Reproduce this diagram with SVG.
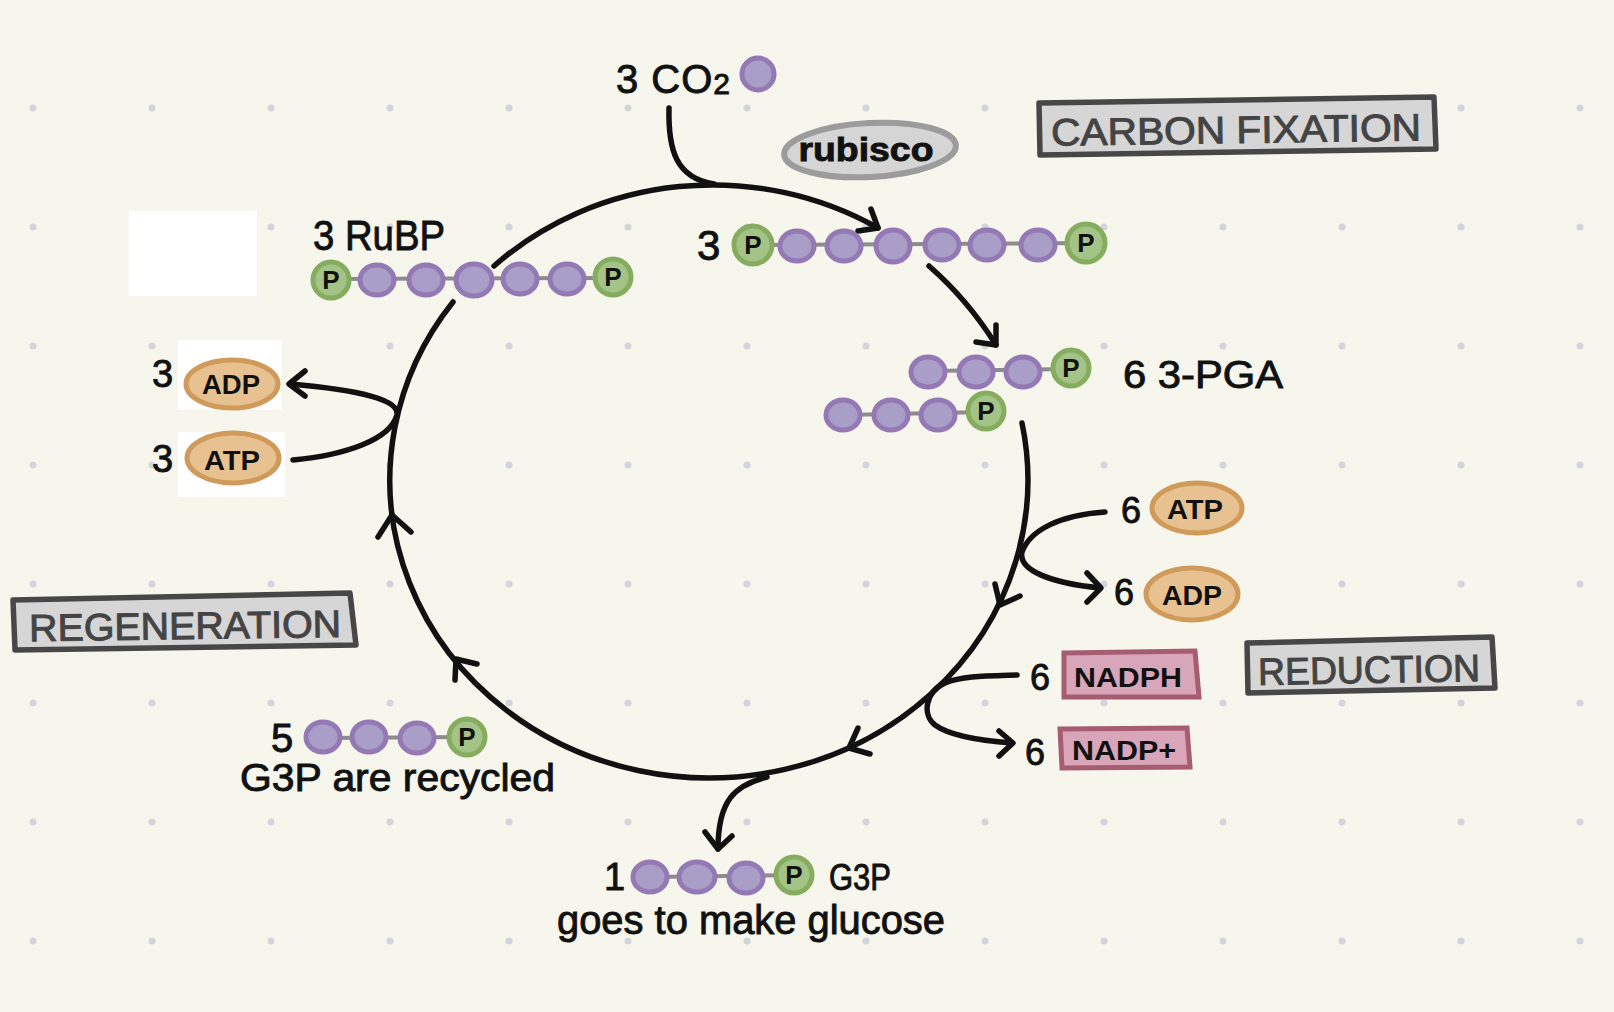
<svg xmlns="http://www.w3.org/2000/svg" width="1614" height="1012" viewBox="0 0 1614 1012">
<defs>
<pattern id="dots" x="-26" y="49" width="119" height="119" patternUnits="userSpaceOnUse">
<circle cx="59" cy="59" r="3.5" fill="#d3d5dc"/>
</pattern>
<style>
.ln{fill:none;stroke:#111;stroke-width:5.5;stroke-linecap:round;stroke-linejoin:round}
.c{fill:#a89ec8;stroke:#9479b4;stroke-width:5}
.p{fill:#a4c386;stroke:#86ad5f;stroke-width:5}
.bond{stroke:#8c8c8c;stroke-width:4}
.pt{font-family:"Liberation Sans",Arial,sans-serif;font-weight:bold;font-size:26px;fill:#111;text-anchor:middle}
.hw{font-family:"Liberation Sans",Arial,sans-serif;fill:#111;stroke:#111;stroke-width:0.9}
.tan{fill:#e8c190;stroke:#cf9a5a;stroke-width:5}
.pink{fill:#d9a5b8;stroke:#a65d71;stroke-width:5}
.box{fill:#d6d6d6;stroke:#474747;stroke-width:5.5;stroke-linejoin:round}
.boxt{font-family:"Liberation Sans",Arial,sans-serif;font-size:38px;fill:#444;stroke:#444;stroke-width:1;text-anchor:middle}
.lbl{font-family:"Liberation Sans",Arial,sans-serif;font-weight:bold;font-size:27px;fill:#111;text-anchor:middle}
</style>
</defs>
<rect width="1614" height="1012" fill="#f6f6ec"/>
<rect width="1614" height="1012" fill="url(#dots)"/>
<rect x="129" y="211" width="128" height="85" fill="#fff"/>
<rect x="178" y="340" width="104" height="70" fill="#fff"/>
<rect x="178" y="432" width="107" height="65" fill="#fff"/>

<g id="connectors">
<path class="ln" d="M494,266 A319,298 0 0 1 878,228"/>
<path class="ln" d="M669,108 C668,150 676,178 714,184"/>
<path class="ln" d="M871,209 L878,228 L858,231"/>
<path class="ln" d="M929,266 Q968,300 996,345"/>
<path class="ln" d="M976,342 L996,345 L996,325"/>
<path class="ln" d="M1022,423 A319,298 0 1 1 453,302"/>
<path class="ln" d="M1020,596 L1000,605 L995,584"/>
<path class="ln" d="M870,754 L849,748 L858,728"/>
<path class="ln" d="M455,680 L456,659 L477,664"/>
<path class="ln" d="M378,537 L392,515 L411,532"/>
<path class="ln" d="M293,460 C345,455 390,440 397,415 C400,400 360,390 290,384"/>
<path class="ln" d="M305,371 L289,384 L305,396"/>
<path class="ln" d="M1105,512 C1060,515 1030,530 1022,552 C1018,570 1050,583 1100,588"/>
<path class="ln" d="M1087,573 L1101,588 L1087,602"/>
<path class="ln" d="M1017,675 C985,676 962,676 945,683 C925,692 922,715 935,725 C950,736 985,741 1012,743"/>
<path class="ln" d="M999,731 L1013,743 L999,756"/>
<path class="ln" d="M767,777 C735,785 718,800 718,849"/>
<path class="ln" d="M705,832 L718,849 L732,836"/>
</g>

<g id="co2">
<text class="hw" x="616" y="93" font-size="40" letter-spacing="1">3 CO<tspan font-size="30" dy="1">2</tspan></text>
<circle class="c" cx="758" cy="74" r="16"/>
</g>

<g id="rubisco">
<ellipse cx="870" cy="150" rx="86" ry="27" fill="#d5d5d5" stroke="#9c9c9c" stroke-width="6" transform="rotate(-3 870 150)"/>
<text class="hw" x="866" y="161" font-size="34" font-weight="bold" text-anchor="middle" textLength="135" lengthAdjust="spacingAndGlyphs">rubisco</text>
</g>

<g id="carbon-fixation">
<polygon class="box" points="1039,103 1434,97 1436,149 1040,155"/>
<text class="boxt" x="1236" y="143" textLength="370" lengthAdjust="spacingAndGlyphs" transform="rotate(-0.8 1236 128)">CARBON FIXATION</text>
</g>

<g id="rubp">
<text class="hw" x="313" y="250" font-size="42" textLength="132" lengthAdjust="spacingAndGlyphs">3 RuBP</text>
<line class="bond" x1="331" y1="279" x2="613" y2="278"/>
<circle class="p" cx="331" cy="280" r="18"/>
<ellipse class="c" cx="377" cy="280" rx="17" ry="15"/>
<ellipse class="c" cx="426" cy="280" rx="17" ry="15"/>
<ellipse class="c" cx="474" cy="280" rx="18" ry="16"/>
<ellipse class="c" cx="520" cy="279" rx="17" ry="15"/>
<ellipse class="c" cx="567" cy="279" rx="17" ry="15"/>
<circle class="p" cx="613" cy="277" r="18"/>
<text class="pt" x="331" y="289">P</text>
<text class="pt" x="613" y="286">P</text>
</g>

<g id="six-carbon">
<text class="hw" x="697" y="260" font-size="42">3</text>
<line class="bond" x1="753" y1="245" x2="1086" y2="243"/>
<circle class="p" cx="753" cy="245" r="19"/>
<ellipse class="c" cx="797" cy="246" rx="17" ry="15"/>
<ellipse class="c" cx="844" cy="246" rx="17" ry="15"/>
<ellipse class="c" cx="893" cy="246" rx="17" ry="16"/>
<ellipse class="c" cx="942" cy="245" rx="17" ry="15"/>
<ellipse class="c" cx="987" cy="245" rx="17" ry="15"/>
<ellipse class="c" cx="1038" cy="245" rx="17" ry="15"/>
<circle class="p" cx="1086" cy="243" r="19"/>
<text class="pt" x="753" y="254">P</text>
<text class="pt" x="1086" y="252">P</text>
</g>

<g id="pga">
<line class="bond" x1="928" y1="371" x2="1071" y2="369"/>
<ellipse class="c" cx="928" cy="372" rx="17" ry="15"/>
<ellipse class="c" cx="976" cy="372" rx="17" ry="15"/>
<ellipse class="c" cx="1023" cy="372" rx="17" ry="15"/>
<circle class="p" cx="1071" cy="368" r="18"/>
<text class="pt" x="1071" y="377">P</text>
<line class="bond" x1="843" y1="415" x2="986" y2="412"/>
<ellipse class="c" cx="843" cy="415" rx="17" ry="15"/>
<ellipse class="c" cx="891" cy="415" rx="17" ry="15"/>
<ellipse class="c" cx="938" cy="415" rx="17" ry="15"/>
<circle class="p" cx="986" cy="411" r="18"/>
<text class="pt" x="986" y="420">P</text>
<text class="hw" x="1123" y="388" font-size="38" textLength="160" lengthAdjust="spacingAndGlyphs">6 3-PGA</text>
</g>

<g id="adp-left">
<text class="hw" x="152" y="387" font-size="38">3</text>
<ellipse class="tan" cx="232" cy="384" rx="46" ry="24"/>
<text class="lbl" x="231" y="394" textLength="58" lengthAdjust="spacingAndGlyphs">ADP</text>
</g>
<g id="atp-left">
<text class="hw" x="152" y="472" font-size="38">3</text>
<ellipse class="tan" cx="233" cy="458" rx="46" ry="25"/>
<text class="lbl" x="232" y="470" textLength="56" lengthAdjust="spacingAndGlyphs">ATP</text>
</g>

<g id="atp-right">
<text class="hw" x="1121" y="523" font-size="36">6</text>
<ellipse class="tan" cx="1197" cy="508" rx="45" ry="25"/>
<text class="lbl" x="1195" y="519" textLength="56" lengthAdjust="spacingAndGlyphs">ATP</text>
</g>
<g id="adp-right">
<text class="hw" x="1114" y="605" font-size="36">6</text>
<ellipse class="tan" cx="1192" cy="594" rx="46" ry="26"/>
<text class="lbl" x="1192" y="605" textLength="60" lengthAdjust="spacingAndGlyphs">ADP</text>
</g>

<g id="nadph">
<text class="hw" x="1030" y="690" font-size="36">6</text>
<polygon class="pink" points="1064,653 1195,651 1199,697 1064,697"/>
<text class="lbl" x="1128" y="687" textLength="108" lengthAdjust="spacingAndGlyphs">NADPH</text>
</g>
<g id="nadp">
<text class="hw" x="1025" y="765" font-size="36">6</text>
<polygon class="pink" points="1060,729 1187,728 1190,767 1062,768"/>
<text class="lbl" x="1124" y="760" textLength="104" lengthAdjust="spacingAndGlyphs">NADP+</text>
</g>

<g id="reduction">
<polygon class="box" points="1247,643 1492,637 1495,688 1248,693"/>
<text class="boxt" x="1369" y="683" textLength="222" lengthAdjust="spacingAndGlyphs" transform="rotate(-1 1369 668)">REDUCTION</text>
</g>

<g id="regeneration">
<polygon class="box" points="13,600 350,593 356,645 15,650"/>
<text class="boxt" x="185" y="639" textLength="312" lengthAdjust="spacingAndGlyphs" transform="rotate(-0.8 185 624)">REGENERATION</text>
</g>

<g id="g3p-recycled">
<text class="hw" x="271" y="752" font-size="40">5</text>
<line class="bond" x1="323" y1="738" x2="467" y2="737"/>
<ellipse class="c" cx="323" cy="737" rx="17" ry="15"/>
<ellipse class="c" cx="369" cy="737" rx="17" ry="15"/>
<ellipse class="c" cx="417" cy="738" rx="17" ry="15"/>
<circle class="p" cx="467" cy="737" r="18"/>
<text class="pt" x="467" y="746">P</text>
<text class="hw" x="240" y="791" font-size="38" textLength="315" lengthAdjust="spacingAndGlyphs">G3P are recycled</text>
</g>

<g id="g3p-glucose">
<text class="hw" x="604" y="890" font-size="38">1</text>
<line class="bond" x1="650" y1="877" x2="794" y2="875"/>
<ellipse class="c" cx="650" cy="877" rx="17" ry="15"/>
<ellipse class="c" cx="697" cy="877" rx="18" ry="15"/>
<ellipse class="c" cx="746" cy="878" rx="17" ry="15"/>
<circle class="p" cx="794" cy="875" r="18"/>
<text class="pt" x="794" y="884">P</text>
<text class="hw" x="829" y="890" font-size="36" textLength="62" lengthAdjust="spacingAndGlyphs">G3P</text>
<text class="hw" x="557" y="934" font-size="40" textLength="388" lengthAdjust="spacingAndGlyphs">goes to make glucose</text>
</g>
</svg>
